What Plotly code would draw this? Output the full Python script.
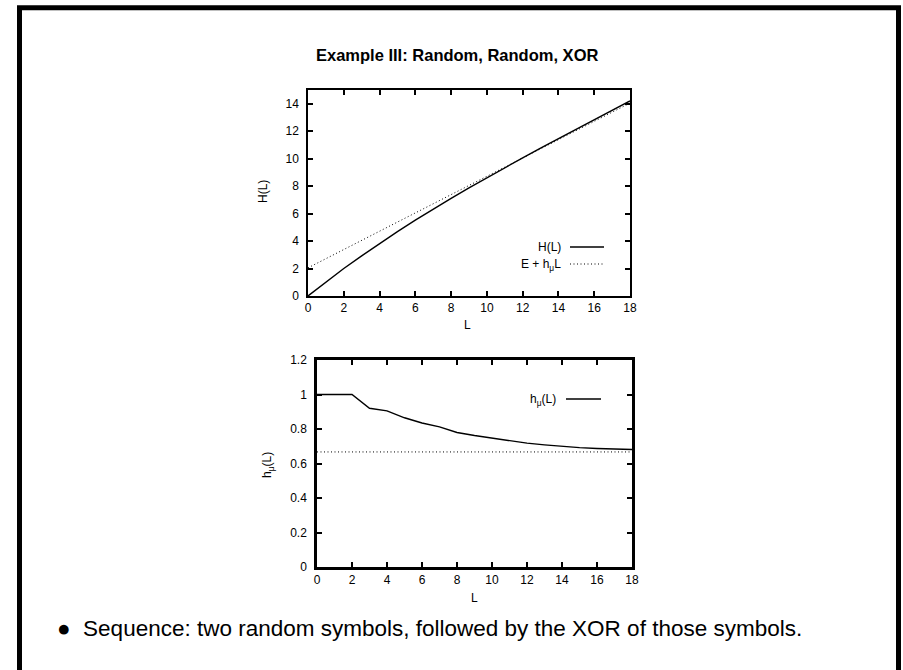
import plotly.graph_objects as go

W, H = 903, 670

# ---- data ----
L_vals = list(range(0, 19))
H_L = [0, 1.0, 2.0, 2.92, 3.82, 4.69, 5.52, 6.33, 7.11, 7.87, 8.62,
       9.35, 10.06, 10.77, 11.46, 12.15, 12.84, 13.52, 14.2]
E_line_L = [0, 18]
E_line_vals = [2.05, 14.05]
h_mu = [1.0, 1.0, 1.0, 0.92, 0.905, 0.865, 0.835, 0.812, 0.78, 0.762, 0.746,
        0.73, 0.718, 0.708, 0.698, 0.692, 0.687, 0.684, 0.681]
h_inf_L = [0, 18]
h_inf = [0.667, 0.667]

x_ticks = list(range(0, 19, 2))
y1_ticks = list(range(0, 15, 2))
y2_ticks = [0, 0.2, 0.4, 0.6, 0.8, 1.0, 1.2]

FONT = "Liberation Sans, Arial, sans-serif"
DOT = "1px,2.5px"

def px(x):
    return x / W

def py(y):
    return 1 - y / H

fig = go.Figure()
fig.add_trace(go.Scatter(x=L_vals, y=H_L, mode="lines", line=dict(color="black", width=1.4),
                         xaxis="x", yaxis="y", showlegend=False))
fig.add_trace(go.Scatter(x=E_line_L, y=E_line_vals, mode="lines",
                         line=dict(color="black", width=1, dash=DOT),
                         xaxis="x", yaxis="y", showlegend=False))
fig.add_trace(go.Scatter(x=L_vals, y=h_mu, mode="lines", line=dict(color="black", width=1.4),
                         xaxis="x2", yaxis="y2", showlegend=False))
fig.add_trace(go.Scatter(x=h_inf_L, y=h_inf, mode="lines",
                         line=dict(color="black", width=1, dash=DOT),
                         xaxis="x2", yaxis="y2", showlegend=False))

axis_common = dict(showgrid=False, zeroline=False, showline=True, linecolor="black",
                   mirror="ticks", ticks="inside", ticklen=5, tickcolor="black",
                   tickfont=dict(family=FONT, size=12, color="black"))

fig.update_layout(
    width=W, height=H,
    margin=dict(l=0, r=0, t=0, b=0, autoexpand=False),
    paper_bgcolor="white", plot_bgcolor="white",
    showlegend=False,
    xaxis=dict(domain=[px(308), px(630)], range=[0, 18], tickvals=x_ticks, anchor="y",
               linewidth=1.5, tickwidth=1.5, **axis_common),
    yaxis=dict(domain=[py(296), py(90)], range=[0, 15], tickvals=y1_ticks, anchor="x",
               linewidth=1.5, tickwidth=1.5, ticklabelstandoff=5, **axis_common),
    xaxis2=dict(domain=[px(317), px(632)], range=[0, 18], tickvals=x_ticks, anchor="y2",
                linewidth=2.5, tickwidth=2, **axis_common),
    yaxis2=dict(domain=[py(567), py(360)], range=[0, 1.2], tickvals=y2_ticks, anchor="x2",
                linewidth=2.5, tickwidth=2, ticklabelstandoff=5, **axis_common),
)

ann = [
    dict(text="<b>Example III: Random, Random, XOR</b>", x=px(457), y=py(55),
         font=dict(family=FONT, size=16.5, color="black")),
    dict(text="H(L)", x=px(263), y=py(192), textangle=-90,
         font=dict(family=FONT, size=12, color="black")),
    dict(text="L", x=px(468), y=py(325), font=dict(family=FONT, size=12, color="black")),
    dict(text="h<sub>μ</sub>(L)", x=px(268), y=py(465), textangle=-90,
         font=dict(family=FONT, size=12, color="black")),
    dict(text="L", x=px(474), y=py(598), font=dict(family=FONT, size=12, color="black")),
    dict(text="H(L)", x=px(563), y=py(247), xanchor="right",
         font=dict(family=FONT, size=12, color="black")),
    dict(text="E + h<sub>μ</sub>L", x=px(563), y=py(265), xanchor="right",
         font=dict(family=FONT, size=12, color="black")),
    dict(text="h<sub>μ</sub>(L)", x=px(558), y=py(400), xanchor="right",
         font=dict(family=FONT, size=12, color="black")),
    dict(text="●  Sequence: two random symbols, followed by the XOR of those symbols.",
         x=px(55), y=py(628), xanchor="left",
         font=dict(family=FONT, size=22.5, color="black")),
]
for a in ann:
    a.setdefault("xanchor", "center")
    fig.add_annotation(xref="paper", yref="paper", showarrow=False, yanchor="middle", **a)

shapes = [
    # slide frame
    dict(type="rect", x0=px(19.5), x1=px(898.5), y0=-0.05, y1=py(7.8),
         line=dict(color="black", width=5)),
    # legend samples
    dict(type="line", x0=px(570), x1=px(604), y0=py(247), y1=py(247),
         line=dict(color="black", width=1.4)),
    dict(type="line", x0=px(570), x1=px(604), y0=py(264), y1=py(264),
         line=dict(color="black", width=1, dash=DOT)),
    dict(type="line", x0=px(566), x1=px(601), y0=py(399), y1=py(399),
         line=dict(color="black", width=1.4)),
]
for s in shapes:
    fig.add_shape(xref="paper", yref="paper", **s)

post = ("document.documentElement.style.margin='0';"
        "document.documentElement.style.padding='0';"
        "document.documentElement.style.overflow='hidden';"
        "document.body.style.margin='0';"
        "document.body.style.padding='0';"
        "document.body.style.overflow='hidden';")
fig.write_html("out.html", config={"displayModeBar": False}, post_script=post)
